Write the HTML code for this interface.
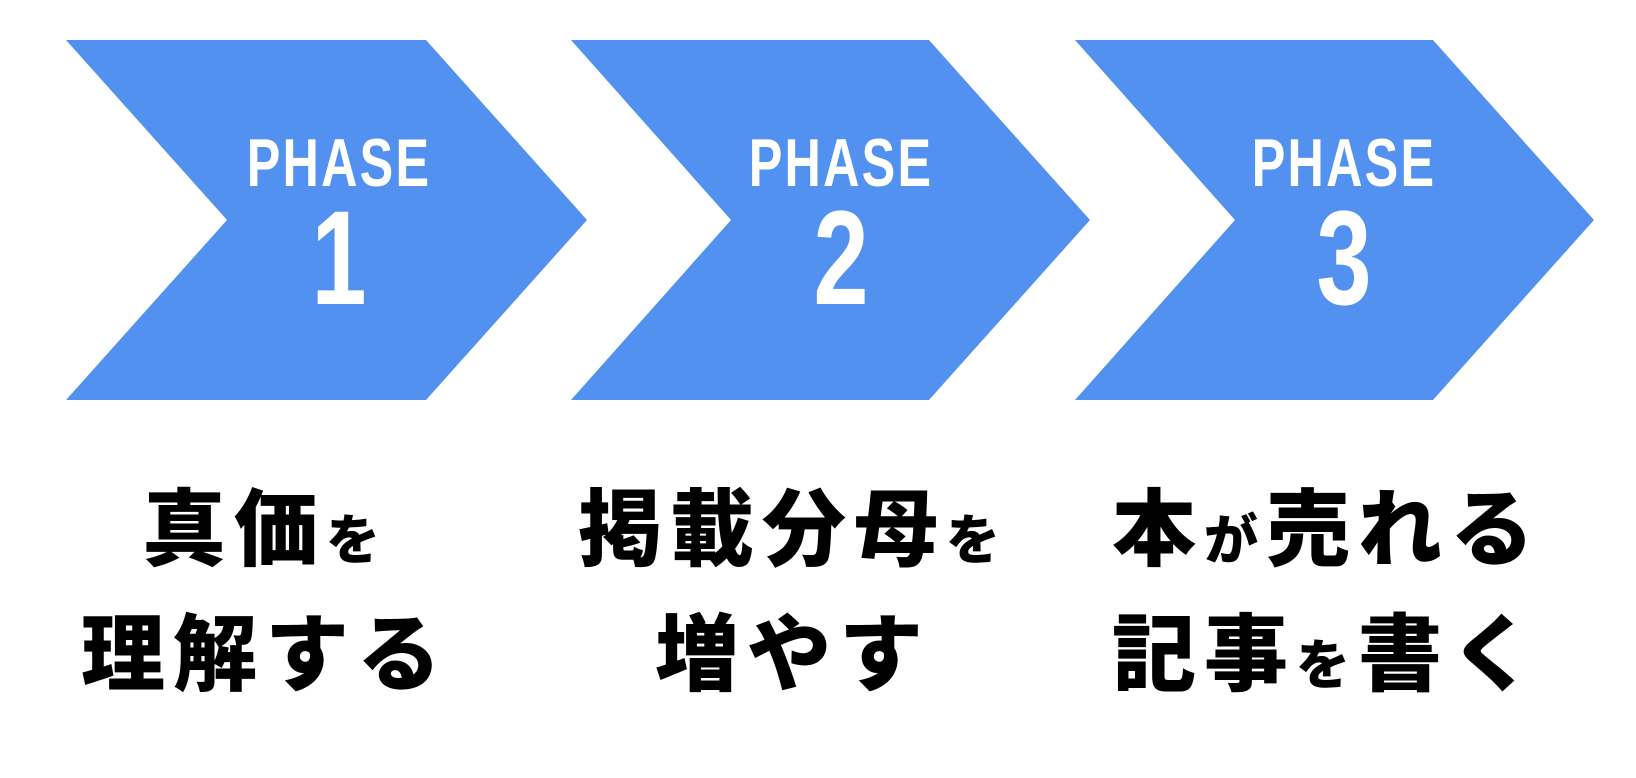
<!DOCTYPE html>
<html><head><meta charset="utf-8"><style>
body{margin:0;width:1636px;height:778px;background:#fff;overflow:hidden;position:relative}
svg{position:absolute;left:0;top:0}
.ph{position:absolute;width:300px;text-align:center;color:#fff;font-family:"Liberation Sans",sans-serif;font-weight:bold}
.p{font-size:68px;top:124px;transform:scaleX(0.74);letter-spacing:3px}
.n{font-size:134px;top:182px;transform:scaleX(0.74)}
.jp{position:absolute;width:600px;text-align:center;font-family:"Liberation Sans","Noto Sans CJK JP",sans-serif;font-weight:900;font-size:84px;letter-spacing:8px;color:#000;line-height:114px;top:473px}
.s{font-size:54px}
</style></head><body>
<svg width="1636" height="778">
<g fill="#5291f0">
<polygon points="66,40 426,40 587,220 426,400 66,400 227,220"/>
<polygon points="571,40 929,40 1090,220 929,400 571,400 731,220"/>
<polygon points="1075,40 1433,40 1594,220 1433,400 1075,400 1235,220"/>
</g></svg>
<div class="ph p" style="left:189px">PHASE</div>
<div class="ph n" style="left:189px">1</div>
<div class="ph p" style="left:691px">PHASE</div>
<div class="ph n" style="left:691px">2</div>
<div class="ph p" style="left:1194px">PHASE</div>
<div class="ph n" style="left:1194px">3</div>
<div class="jp" style="left:-35px">真価<span class="s">を</span><br>理解する</div>
<div class="jp" style="left:493px">掲載分母<span class="s">を</span><br>増やす</div>
<div class="jp" style="left:1027px">本<span class="s">が</span>売れる<br>記事<span class="s">を</span>書く</div>
</body></html>
